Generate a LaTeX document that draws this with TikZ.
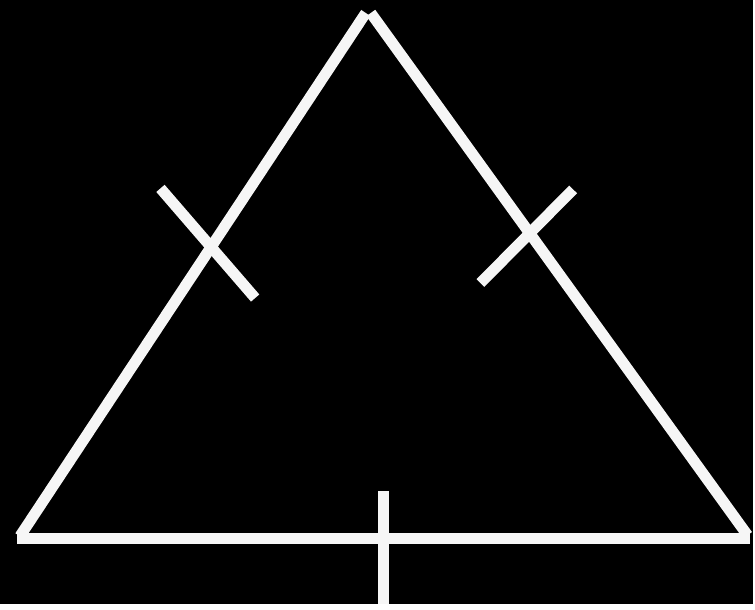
\documentclass[tikz,border=0pt]{standalone}
\usetikzlibrary{math}
\definecolor{chalk}{RGB}{246,246,246}

\begin{document}
\begin{tikzpicture}[x=0.02cm,y=-0.02cm]
\tikzmath{
\w=11;
}
\fill[black] (0,0) rectangle (755,606);

\draw[line width=\w*0.02cm, color=chalk] (20,538) -- (367,13);
\draw[line width=\w*0.02cm, color=chalk] (372,13) -- (750,537);
\draw[line width=\w*0.02cm, color=chalk] (17,540.5) -- (752,540.5);

% equal sides
\draw[line width=\w*0.02cm, color=chalk] (161,189) -- (256,299);
\draw[line width=\w*0.02cm, color=chalk] (575,190) -- (482,284);
\draw[line width=\w*0.02cm, color=chalk] (384.5,493) -- (384.5,606);

\end{tikzpicture}
\end{document}
